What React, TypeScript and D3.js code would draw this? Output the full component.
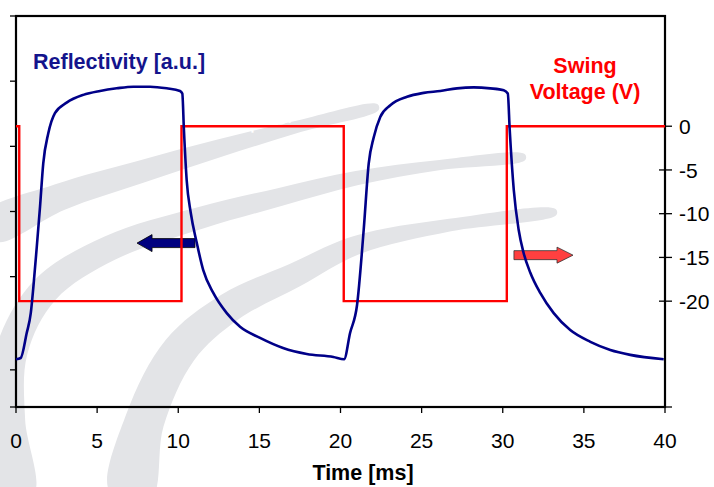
import React from "react";
import * as d3 from "d3";

// ---- data ----
const timeTicks = [0, 5, 10, 15, 20, 25, 30, 35, 40];
const voltTicks = [0, -5, -10, -15, -20];
const reflTicks = [0, 0.57, 2, 3, 4, 5, 6];

// reflectivity (a.u.)
const reflT = [0, 0.29, 0.66, 0.91, 1.07, 1.28, 1.48, 1.68, 1.99, 2.4, 3.12, 4.15, 5.18, 6.21, 7.23, 8.26, 9.29, 10.11, 10.25,
  10.35, 10.52, 10.77, 11.14, 11.54, 12.16, 12.99, 13.81, 15.04, 16.46, 17.92, 19.56, 20.22,
  20.59, 21.02, 21.43, 21.74, 22.05, 22.45, 23.07, 24.1, 25.13, 26.15, 27.18, 28.21, 29.23, 30.06, 30.31,
  30.43, 30.68, 30.98, 31.29, 31.7, 32.31, 33.14, 34.16, 35.4, 36.63, 37.86, 39.92];
const reflV = [0.732, 0.752, 1.135, 1.44, 1.84, 2.455, 3.07, 3.74, 4.2, 4.51, 4.67, 4.79, 4.85, 4.89, 4.915, 4.915, 4.89, 4.85, 4.81,
  4.25, 3.48, 2.98, 2.52, 2.1, 1.75, 1.44, 1.23, 1.06, 0.905, 0.813, 0.767, 0.732,
  1.135, 1.565, 2.72, 3.74, 4.14, 4.45, 4.63, 4.76, 4.82, 4.85, 4.89, 4.905, 4.89, 4.86, 4.81,
  4.25, 3.33, 2.72, 2.36, 2.06, 1.75, 1.44, 1.18, 1.0, 0.875, 0.8, 0.732];

// swing voltage (V), step changes
const voltT = [0, 0.2, 10.2, 20.2, 30.25, 40];
const voltV = [0, -20, 0, -20, 0, 0];

// annotation arrows (data coordinates)
const leftArrow = { t0: 11.03, t1: 7.46, v: 2.515 };
const rightArrow = { t0: 30.69, t1: 34.33, v: -14.74 };

const W = 714, H = 487;
const FONT = "'Liberation Sans', Arial, sans-serif";

// watermark band centerlines (decoration)
const bands = [
  { pts: [[-10, 228], [60, 197], [140, 172], [220, 148], [300, 126], [378, 107]], w0: 15, w1: 3 },
  { pts: [[16, 495], [8, 420], [12, 350], [45, 290], [110, 248], [200, 218], [280, 197], [357, 178], [440, 165], [525, 157]], w0: 18, w1: 3 },
  { pts: [[130, 495], [145, 420], [180, 350], [230, 307], [295, 275], [357, 245], [450, 225], [556, 212]], w0: 21, w1: 3 },
];

function ribbon(pts: number[][], w0: number, w1: number) {
  const n = pts.length;
  const up: [number, number][] = [];
  const lo: [number, number][] = [];
  for (let i = 0; i < n; i++) {
    const a = pts[Math.max(0, i - 1)], b = pts[Math.min(n - 1, i + 1)];
    let dx = b[0] - a[0], dy = b[1] - a[1];
    const L = Math.hypot(dx, dy) || 1;
    dx /= L; dy /= L;
    const nx = -dy, ny = dx;
    const w = w0 + (w1 - w0) * Math.pow(i / (n - 1), 1.3);
    up.push([pts[i][0] + nx * w, pts[i][1] + ny * w]);
    lo.push([pts[i][0] - nx * w, pts[i][1] - ny * w]);
  }
  return d3.line().curve(d3.curveCatmullRomClosed)([...up, ...lo.reverse()]) || "";
}

export default function App() {
  const x = d3.scaleLinear().domain([0, 40]).range([16, 665]);
  const yL = d3.scaleLinear().domain([0, 6]).range([407, 16]);
  const yR = d3.scaleLinear().domain([-32.1, 12.6]).range([407, 16]);

  const reflData = reflT.map((t, i) => [t, reflV[i]] as [number, number]);
  const voltData = voltT.map((t, i) => [t, voltV[i]] as [number, number]);

  const reflPath = d3.line<[number, number]>().x(d => x(d[0])).y(d => yL(d[1])).curve(d3.curveMonotoneX)(reflData) || "";
  const voltPath = d3.line<[number, number]>().x(d => x(d[0])).y(d => yR(d[1])).curve(d3.curveStepAfter)(voltData) || "";

  const arrowPath = (xa: number, xb: number, yc: number, sh: number, hh: number, hl: number) => {
    const dir = Math.sign(xb - xa);
    const xh = xb - dir * hl;
    return `M${xa},${yc - sh}L${xh},${yc - sh}L${xh},${yc - hh}L${xb},${yc}L${xh},${yc + hh}L${xh},${yc + sh}L${xa},${yc + sh}Z`;
  };

  return (
    <svg width={W} height={H} style={{ position: "absolute", left: 0, top: 0, background: "#fff" }} fontFamily={FONT}>
      <rect x={0} y={0} width={W} height={H} fill="#fff" />
      {bands.map((b, i) => (
        <path key={i} d={ribbon(b.pts, b.w0, b.w1)} fill="#e3e4e7" />
      ))}
      <text x={250} y={130} fill="#fff" fontSize={15} fontWeight="bold" transform="rotate(-10 250 130)">μm Oi</text>

      {/* frame */}
      <rect x={16} y={16} width={649} height={391} fill="none" stroke="#000" strokeWidth={2.2} />

      {/* left ticks */}
      {reflTicks.map(v => (
        <line key={"l" + v} x1={10} x2={16} y1={yL(v)} y2={yL(v)} stroke="#000" strokeWidth={1.3} />
      ))}
      {/* bottom ticks & labels */}
      {timeTicks.map(t => (
        <g key={"b" + t}>
          <line x1={x(t)} x2={x(t)} y1={407} y2={413} stroke="#000" strokeWidth={1.3} />
          <text x={x(t)} y={448} textAnchor="middle" fontSize={21} fill="#000">{t}</text>
        </g>
      ))}
      {/* right ticks & labels */}
      {voltTicks.map(v => (
        <g key={"r" + v}>
          <line x1={659} x2={672} y1={yR(v)} y2={yR(v)} stroke="#000" strokeWidth={1.3} />
          <text x={679} y={yR(v)} dy="0.36em" fontSize={21} fill="#000">{v}</text>
        </g>
      ))}
      <line x1={659} x2={672} y1={yR(-32.1)} y2={yR(-32.1)} stroke="#000" strokeWidth={1.3} />

      {/* arrows */}
      <path d={arrowPath(x(leftArrow.t0), x(leftArrow.t1), yL(leftArrow.v), 4.5, 8.5, 15)} fill="#000080" stroke="#000" strokeWidth={0.8} />
      <path d={arrowPath(x(rightArrow.t0), x(rightArrow.t1), yR(rightArrow.v), 4.5, 8, 16)} fill="#ff4040" stroke="#333" strokeWidth={0.8} />

      {/* series */}
      <path d={voltPath} fill="none" stroke="#ff0000" strokeWidth={2.4} />
      <path d={reflPath} fill="none" stroke="#000088" strokeWidth={2.6} strokeLinejoin="round" />

      {/* labels */}
      <text x={33} y={69} fontSize={21.5} fontWeight="bold" fill="#14148c">Reflectivity [a.u.]</text>
      <text x={585} y={73} fontSize={21.5} fontWeight="bold" fill="#ff0000" textAnchor="middle">Swing</text>
      <text x={585} y={99} fontSize={21.5} fontWeight="bold" fill="#ff0000" textAnchor="middle">Voltage (V)</text>
      <text x={363} y={480} fontSize={21.5} fontWeight="bold" fill="#000" textAnchor="middle">Time [ms]</text>
    </svg>
  );
}
